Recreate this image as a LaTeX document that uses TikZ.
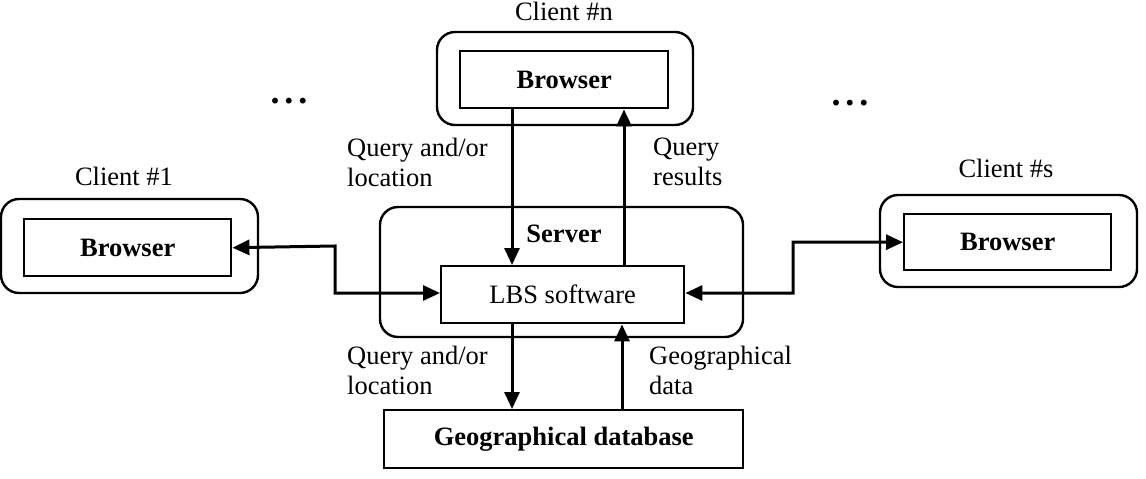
\documentclass[tikz,border=0pt]{standalone}
\usepackage{fontspec}
\setmainfont{Liberation Serif}
\usetikzlibrary{arrows.meta}
\begin{document}
\begin{tikzpicture}[x=1pt,y=-1pt,
  every node/.style={font=\fontsize{26.5}{30}\selectfont},
  outerbox/.style={draw,line width=2.4pt,rounded corners=18pt},
  innerbox/.style={draw,line width=2.4pt,inner sep=0pt},
  lbl/.style={anchor=north west,align=left,inner sep=0pt},
  arr/.style={line width=3pt,-{Triangle[length=17pt,width=15pt]}},
  darr/.style={line width=3pt,{Triangle[length=17pt,width=15pt]}-{Triangle[length=17pt,width=15pt]}},
  dots/.style={font=\fontsize{36}{40}\selectfont\bfseries,inner sep=0pt,anchor=base}
]
\useasboundingbox (0,0) rectangle (1146,479);
% Client #1
\draw[outerbox] (1,199) rectangle (258,293);
\node[innerbox,minimum width=207pt,minimum height=57pt,anchor=north west] (b1) at (23,218) {\textbf{Browser}};
\node[anchor=base,inner sep=0pt] (c1) at (124,185) {Client \#1};
% Client #n
\draw[outerbox] (437,32) rectangle (693,125);
\node[innerbox,minimum width=208pt,minimum height=57pt,anchor=north west] (bn) at (459,50) {\textbf{Browser}};
\node[anchor=base,inner sep=0pt] (cn) at (564,20) {Client \#n};
% Client #s
\draw[outerbox] (880,195) rectangle (1137,287);
\node[innerbox,minimum width=207pt,minimum height=56pt,anchor=north west] (bs) at (903,213) {\textbf{Browser}};
\node[anchor=base,inner sep=0pt] (cs) at (1006,177) {Client \#s};
% Server
\draw[outerbox] (380,207) rectangle (743,337);
\node[anchor=base,inner sep=0pt] (srv) at (564,242) {\textbf{Server}};
\node[innerbox,minimum width=243pt,minimum height=57pt,anchor=north west] (lbs) at (440,265) {LBS software};
% Database
\node[innerbox,minimum width=359pt,minimum height=58pt,anchor=north west] (db) at (383,409) {\textbf{Geographical database}};
% dots
\node[dots] (d1) at (289,103) {.\kern5pt.\kern5pt.};
\node[dots] (d2) at (850,105) {.\kern5pt.\kern5pt.};
% labels
\node[lbl] (l1) at (347,138) {Query and/or\\location};
\node[lbl] (l2) at (653,138) {Query\\results};
\node[lbl] (l3) at (347,346) {Query and/or\\location};
\node[lbl] (l4) at (649,346) {Geographical\\data};
% connectors
\draw[arr] (bn.south -| 512,0) -- (lbs.north -| 512,0);
\draw[arr] (lbs.north -| 624,0) -- (bn.south -| 624,0);
\draw[arr] (lbs.south -| 512,0) -- (db.north -| 512,0);
\draw[arr] (db.north -| 622,0) -- (lbs.south -| 622,0);
\draw[darr] (b1.east) -- (335,246) -- (335,293) -- (lbs.west |- 0,293);
\draw[darr] (lbs.east |- 0,293) -- (793,293) -- (793,242) -- (bs.west);
\end{tikzpicture}
\end{document}
